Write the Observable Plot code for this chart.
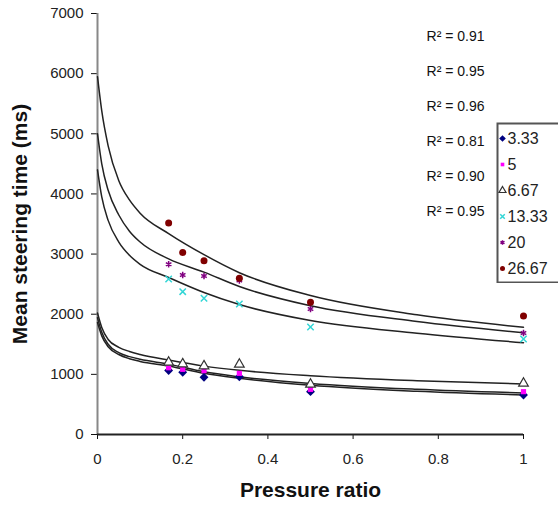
<!DOCTYPE html>
<html>
<head>
<meta charset="utf-8">
<script src="https://cdn.jsdelivr.net/npm/d3@7"></script>
<script src="https://cdn.jsdelivr.net/npm/@observablehq/plot@0.6"></script>
<style>
  html, body { margin: 0; padding: 0; background: #fff; }
  #wrap { position: relative; width: 558px; height: 506px; overflow: hidden; font-family: "Liberation Sans", Arial, sans-serif; }
  #wrap > * { position: absolute; }
</style>
</head>
<body>
<div id="wrap"></div>
<script>
// ---- data ----
const seriesNames = ["3.33", "5", "6.67", "13.33", "20", "26.67"];
const pressureRatio = [0.167, 0.2, 0.25, 0.333, 0.5, 1];
const time_3_33  = [1065, 1034, 951, 961, 712, 657];
const time_5     = [1110, 1084, 1061, 1017, 751, 712];
const time_6_67  = [1200, 1172, 1139, 1167, 834, 851];
const time_13_33 = [2586, 2375, 2265, 2170, 1787, 1588];
const time_20    = [2830, 2652, 2636, 2560, 2087, 1688];
const time_26_67 = [3517, 3026, 2890, 2597, 2198, 1970];

// trendline (power fit) positions
const trendX        = [0, 0.01, 0.025, 0.05, 0.075, 0.1, 0.167, 0.25, 0.333, 0.5, 0.75, 1];
const trend_3_33    = [1860, 1640, 1460, 1330, 1260, 1215, 1140, 1017, 935, 818, 718, 657];
const trend_5       = [1940, 1700, 1500, 1360, 1295, 1250, 1170, 1042, 959, 849, 751, 690];
const trend_6_67    = [2020, 1780, 1580, 1450, 1380, 1330, 1237, 1137, 1067, 977, 894, 840];
const trend_13_33   = [4400, 3950, 3560, 3200, 2980, 2830, 2610, 2360, 2160, 1895, 1685, 1527];
const trend_20      = [5000, 4500, 4060, 3650, 3380, 3200, 2920, 2700, 2460, 2140, 1880, 1693];
const trend_26_67   = [5950, 5380, 4800, 4220, 3900, 3680, 3340, 2990, 2690, 2310, 1990, 1783];

const r2Values = ["0.91", "0.95", "0.96", "0.81", "0.90", "0.95"];

const xTicks = [0, 0.2, 0.4, 0.6, 0.8, 1];
const yTicks = [0, 1000, 2000, 3000, 4000, 5000, 6000, 7000];

// ---- build tables ----
const values = [time_3_33, time_5, time_6_67, time_13_33, time_20, time_26_67];
const trends = [trend_3_33, trend_5, trend_6_67, trend_13_33, trend_20, trend_26_67];
const points = seriesNames.flatMap((s, i) => pressureRatio.map((x, j) => ({series: s, x, y: values[i][j]})));
const trendRows = seriesNames.flatMap((s, i) => trendX.map((x, j) => ({series: s, x, y: trends[i][j]})));

const styles = {
  "3.33":  {symbol: "diamond2", fill: "#000080", stroke: "none", r: 4},
  "5":     {symbol: "square2", fill: "#ff00ff", stroke: "none", r: 3.3},
  "6.67":  {symbol: "triangle", fill: "white", stroke: "#333", r: 3.6, strokeWidth: 1.2},
  "13.33": {symbol: "times", fill: "none", stroke: "#33d6d6", r: 3, strokeWidth: 1.5},
  "20":    {symbol: "asterisk", fill: "none", stroke: "#800080", r: 3, strokeWidth: 1.5},
  "26.67": {symbol: "circle", fill: "#800000", stroke: "none", r: 3.5}
};

const font = "'Liberation Sans', Arial, sans-serif";

const dotMarks = (data, opts) => seriesNames.map(s => Plot.dot(data.filter(d => d.series === s), {
  ...opts, ...styles[s]
}));

const main = Plot.plot({
  width: 558,
  height: 506,
  marginLeft: 97,
  marginRight: 35,
  marginTop: 13,
  marginBottom: 72,
  style: {fontFamily: font, background: "white", overflow: "visible"},
  x: {domain: [0, 1]},
  y: {domain: [0, 7000]},
  marks: [
    Plot.axisY({ticks: yTicks, tickSize: 6, tickPadding: 8, label: null, fontSize: 15, fill: "#222", stroke: "#111", tickFormat: d => String(d)}),
    Plot.axisX({ticks: xTicks, tickSize: 5, tickPadding: 14, label: null, fontSize: 15, fill: "#222", stroke: "#111", tickFormat: d => String(d)}),
    Plot.ruleX([0], {stroke: "#888", strokeWidth: 2}),
    Plot.ruleY([0], {stroke: "#222", strokeWidth: 2}),
    Plot.line(trendRows, {x: "x", y: "y", z: "series", stroke: "#222", strokeWidth: 1.5, curve: "monotone-x"}),
    ...dotMarks(points, {x: "x", y: "y"}),
    Plot.text(["Pressure ratio"], {text: d => d, frameAnchor: "bottom", dy: 56, fontSize: 21, fontWeight: "bold", fill: "#111", lineAnchor: "middle"}),
    Plot.text(["Mean steering time (ms)"], {text: d => d, frameAnchor: "left", textAnchor: "middle", rotate: -90, dx: -77, fontSize: 21, fontWeight: "bold", fill: "#111", lineAnchor: "middle"})
  ]
});
document.getElementById("wrap").appendChild(main);

// R² annotations
const r2Plot = Plot.plot({
  width: 74, height: 210,
  margin: 0,
  style: {fontFamily: font, background: "transparent"},
  y: {type: "point", domain: r2Values.map((_, i) => i), axis: null},
  marks: [
    Plot.text(r2Values, {y: (d, i) => i, text: d => "R² = " + d, frameAnchor: "middle", fontSize: 14, fill: "#111"})
  ]
});
r2Plot.style.left = "418px";
r2Plot.style.top = "18px";
document.getElementById("wrap").appendChild(r2Plot);

// legend
const legendPlot = Plot.plot({
  width: 80, height: 165,
  marginTop: 4, marginBottom: 0, marginLeft: 0, marginRight: 0,
  style: {fontFamily: font, background: "white"},
  y: {type: "point", domain: seriesNames, axis: null},
  marks: [
    Plot.frame({stroke: "#555", strokeWidth: 2, inset: 1}),
    ...seriesNames.map(s => Plot.dot([s], {y: d => d, frameAnchor: "left", dx: 6, ...styles[s], r: Math.max(2.2, styles[s].r - 1)})),
    Plot.text(seriesNames, {y: d => d, text: d => d, frameAnchor: "left", dx: 11, textAnchor: "start", fontSize: 16, fill: "#222"})
  ]
});
legendPlot.style.left = "496px";
legendPlot.style.top = "118px";
document.getElementById("wrap").appendChild(legendPlot);
</script>
</body>
</html>
